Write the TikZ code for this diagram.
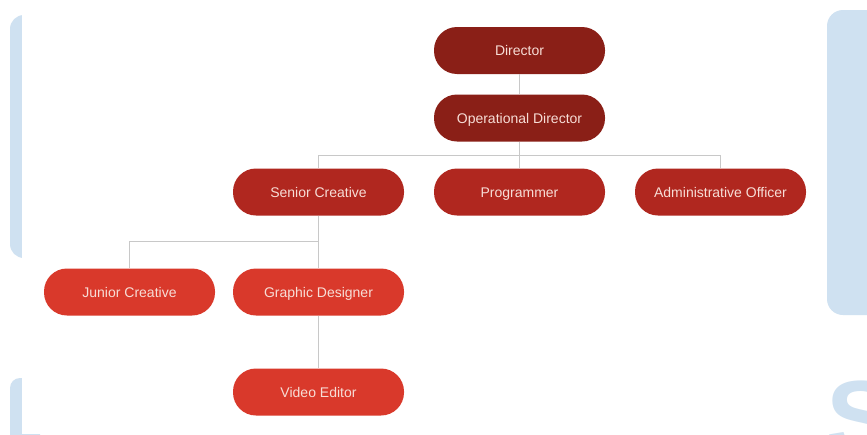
\documentclass[tikz,border=0pt]{standalone}
\usepackage{fontspec}
\setmainfont{Liberation Sans}
\definecolor{dred}{HTML}{8A1F17}
\definecolor{mred}{HTML}{B0271F}
\definecolor{lred}{HTML}{D9392B}
\definecolor{ptext}{HTML}{F7DDD6}
\definecolor{wblue}{HTML}{CFE1F1}
\definecolor{lgray}{HTML}{C8C8C8}
\begin{document}
\begin{tikzpicture}[x=1pt,y=-1pt,
  box/.style={rectangle, rounded corners=23pt, minimum width=171pt, minimum height=47pt,
    text=ptext, font=\fontsize{14}{16}\selectfont, inner sep=0pt,
    text height=10pt, text depth=0pt},
  link/.style={draw=lgray, line width=0.9pt}]
\useasboundingbox (0,0) rectangle (867,434);
\fill[white] (0,0) rectangle (867,434);
\begin{scope}
\clip (0,0) rectangle (867,434);
\fill[wblue, rounded corners=14pt] (10,15) rectangle (40,258);
\fill[wblue, rounded corners=10pt] (10,378) rectangle (40,470);
\fill[wblue, rounded corners=16pt] (827,10) rectangle (900,315);
\node[anchor=base west, inner sep=0pt, text=wblue, font=\fontsize{104}{104}\bfseries\selectfont] (wm) at (826,453) {S};
\fill[white] (22,0) rectangle (827,434);
\end{scope}
\node[box, fill=dred] (dir) at (519.5,50.5) {Director};
\node[box, fill=dred] (op) at (519.5,118) {Operational Director};
\node[box, fill=mred] (sc) at (318.5,192) {Senior Creative};
\node[box, fill=mred] (pr) at (519.5,192) {Programmer};
\node[box, fill=mred] (ao) at (720.5,192) {Administrative Officer};
\node[box, fill=lred] (jc) at (129.5,292) {Junior Creative};
\node[box, fill=lred] (gd) at (318.5,292) {Graphic Designer};
\node[box, fill=lred] (ve) at (318.5,392) {Video Editor};
\coordinate (b1) at (519.5,155);
\coordinate (b2) at (318.5,241);
\draw[link] (dir) -- (op);
\draw[link] (op) -- (b1);
\draw[link] (b1) -| (sc.north);
\draw[link] (b1) -| (ao.north);
\draw[link] (b1) -- (pr.north);
\draw[link] (sc) -- (gd);
\draw[link] (b2) -| (jc.north);
\draw[link] (gd) -- (ve);
\end{tikzpicture}
\end{document}
